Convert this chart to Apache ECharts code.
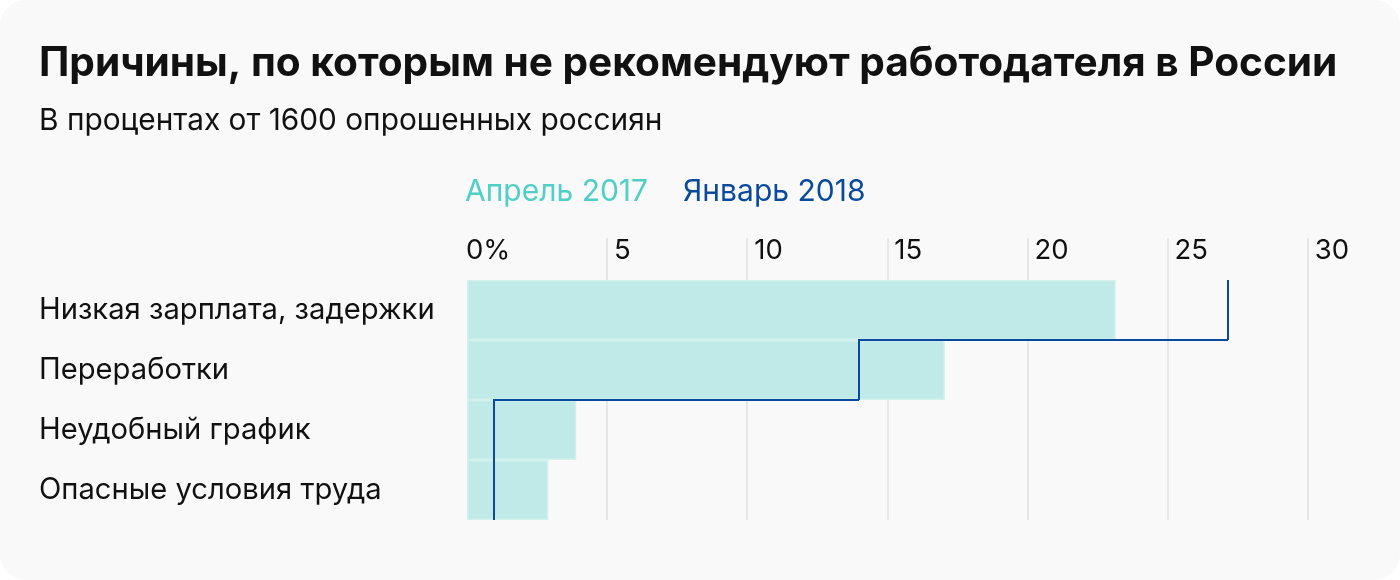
<!DOCTYPE html>
<html>
<head>
<meta charset="utf-8">
<script src="https://cdn.jsdelivr.net/npm/echarts@6/dist/echarts.min.js"></script>
<style>
  html, body { margin: 0; padding: 0; background: #ffffff; }
  #card { width: 1400px; height: 580px; background: #f9f9f9; border-radius: 26px; overflow: hidden; }
  #chart { width: 1400px; height: 580px; }
</style>
</head>
<body>
<div id="card"><div id="chart"></div></div>
<script>
// ---- data ----
const titleText = 'Причины, по которым не рекомендуют работодателя в России';
const subtitleText = 'В процентах от 1600 опрошенных россиян';
const categories = ['Низкая зарплата, задержки', 'Переработки', 'Неудобный график', 'Опасные условия труда'];
const seriesNames = ['Апрель 2017', 'Январь 2018'];
const april2017 = [23.15, 17.05, 3.9, 2.9];
const january2018 = [27.15, 14, 0.95, 0.95];
const axisMin = 0, axisMax = 30, axisStep = 5;

const FONT = 'Inter, "Noto Sans", sans-serif';
const teal = '#4fcfc5';
const navy = '#0a4a9c';
const barColor = '#bfeae7';

const chart = echarts.init(document.getElementById('chart'), null, { renderer: 'canvas' });

const gridLeft = 467, gridRight = 1400 - 1307.7;

const option = {
  backgroundColor: 'transparent',
  animation: false,
  textStyle: { fontFamily: FONT },
  title: [
    { text: titleText, left: 34, top: 38,
      textStyle: { fontFamily: FONT, fontSize: 40.6, fontWeight: 'bold', color: '#111111' } },
    { text: subtitleText, left: 34, top: 101,
      textStyle: { fontFamily: FONT, fontSize: 29.8, fontWeight: 'normal', color: '#111111' } }
  ],
  legend: {
    left: 455, top: 172,
    icon: 'none', itemWidth: 0, itemHeight: 0, itemGap: 30,
    selectedMode: false,
    data: [
      { name: seriesNames[0], textStyle: { color: teal } },
      { name: seriesNames[1], textStyle: { color: navy } }
    ],
    textStyle: { fontFamily: FONT, fontSize: 30, padding: 0 }
  },
  grid: [
    { left: gridLeft, right: gridRight, top: 280, bottom: 60 },
    { left: gridLeft, right: gridRight, top: 238, bottom: 60 }
  ],
  xAxis: [
    { gridIndex: 0, type: 'value', min: axisMin, max: axisMax, interval: axisStep,
      show: false },
    { gridIndex: 1, type: 'value', min: axisMin, max: axisMax, interval: axisStep,
      position: 'top',
      axisLine: { show: false }, axisTick: { show: false },
      splitLine: { show: true, showMinLine: false, lineStyle: { color: '#e0e0e0', width: 1.5 } },
      axisLabel: {
        inside: true, margin: -1, align: 'left', verticalAlign: 'top',
        formatter: v => v === 0 ? '{z|0%}' : '{n|' + v + '}',
        rich: {
          z: { fontFamily: FONT, fontSize: 27.5, color: '#111', padding: [0, 0, 0, -1] },
          n: { fontFamily: FONT, fontSize: 27.5, color: '#111', padding: [0, 0, 0, 7] }
        }
      }
    }
  ],
  yAxis: [
    { gridIndex: 0, type: 'category', data: categories, inverse: true,
      axisLine: { show: false }, axisTick: { show: false },
      axisLabel: { align: 'left', margin: gridLeft - 39, fontFamily: FONT, fontSize: 29.2, color: '#111' } },
    { gridIndex: 1, type: 'category', data: categories, inverse: true, show: false }
  ],
  series: [
    {
      name: seriesNames[0], type: 'bar', xAxisIndex: 0, yAxisIndex: 0,
      data: april2017, barCategoryGap: '0%',
      itemStyle: { color: barColor, borderColor: '#d3f0ed', borderWidth: 1.5 },
      z: 2
    },
    {
      name: seriesNames[1], type: 'custom', xAxisIndex: 0, yAxisIndex: 0,
      data: january2018.map((v, i) => [v, i]),
      encode: { x: 0, y: 1 },
      itemStyle: { color: navy },
      z: 3,
      renderItem: function (params, api) {
        const i = params.dataIndex;
        const p = api.coord([api.value(0), api.value(1)]);
        const bh = api.size([0, 1])[1];
        const top = Math.round(p[1] - bh / 2), bottom = Math.round(p[1] + bh / 2);
        const x = Math.round(p[0]);
        const pts = [];
        if (i > 0) {
          const prev = api.coord([january2018[i - 1], i - 1]);
          pts.push([Math.round(prev[0]), top]);
        }
        pts.push([x, top]);
        pts.push([x, bottom]);
        return {
          type: 'polyline',
          shape: { points: pts },
          style: { stroke: navy, lineWidth: 2, fill: null, lineJoin: 'miter' }
        };
      }
    }
  ]
};
chart.setOption(option);
</script>
</body>
</html>
